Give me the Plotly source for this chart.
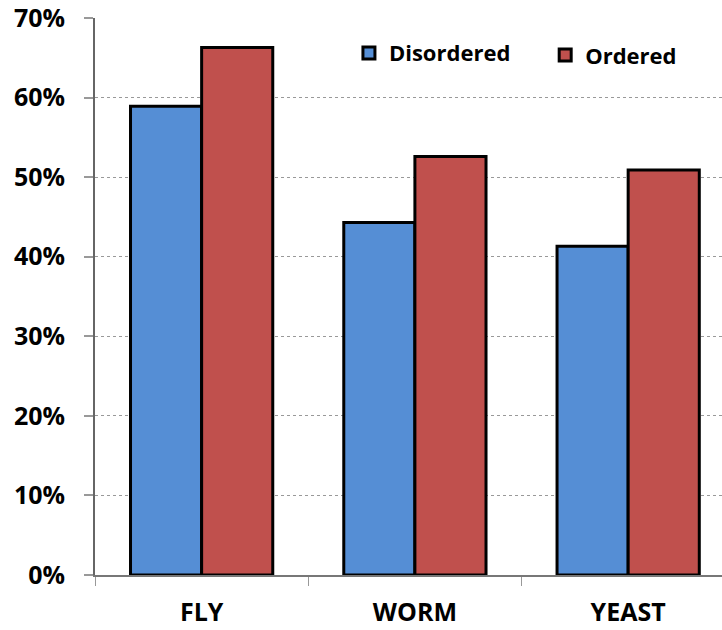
import plotly.graph_objects as go

categories = ["FLY", "WORM", "YEAST"]
disordered = [58.9, 44.3, 41.3]
ordered = [66.3, 52.6, 50.9]
y_ticks = [0, 10, 20, 30, 40, 50, 60, 70]
y_tick_labels = [f"{v}%" for v in y_ticks]

FONT = "Open Sans"
legend_font = dict(family=FONT, size=22, color="black", weight="bold")

fig = go.Figure()
fig.add_trace(go.Bar(
    name="Disordered", x=categories, y=disordered, legend="legend",
    marker=dict(color="#558ED5", line=dict(color="black", width=3)),
))
fig.add_trace(go.Bar(
    name="Ordered", x=categories, y=ordered, legend="legend2",
    marker=dict(color="#C0504D", line=dict(color="black", width=3)),
))

fig.update_layout(
    width=722, height=630,
    margin=dict(l=95, r=0, t=18, b=55),
    paper_bgcolor="white", plot_bgcolor="white",
    barmode="group", bargap=0.333, bargroupgap=0,
    showlegend=True,
    legend=dict(
        x=0.405, y=0.937, xanchor="left", yanchor="middle",
        font=legend_font, bgcolor="rgba(0,0,0,0)",
    ),
    legend2=dict(
        x=0.718, y=0.933, xanchor="left", yanchor="middle",
        font=legend_font, bgcolor="rgba(0,0,0,0)",
    ),
    font=dict(family=FONT, color="black"),
)

fig.update_xaxes(
    range=[-0.5, 2.44], automargin=False,
    showline=True, linecolor="#777777", linewidth=2,
    ticks="outside", tickson="boundaries", ticklen=9, tickcolor="#999999", tickwidth=1,
    tickfont=dict(family=FONT, size=25, color="black", weight="bold"),
    ticklabelstandoff=14, ticklabeloverflow="allow",
    showgrid=False, zeroline=False,
)
fig.update_yaxes(
    range=[0, 70], automargin=False,
    tickvals=y_ticks, ticktext=y_tick_labels,
    showline=True, linecolor="#666666", linewidth=2,
    ticks="outside", ticklen=9, tickcolor="#999999", tickwidth=2,
    tickfont=dict(family=FONT, size=25, color="black", weight="bold"),
    ticklabelstandoff=14, ticklabeloverflow="allow",
    showgrid=True, gridcolor="#999999", gridwidth=1, griddash="dot",
    zeroline=False,
)

fig.write_html("out.html")
